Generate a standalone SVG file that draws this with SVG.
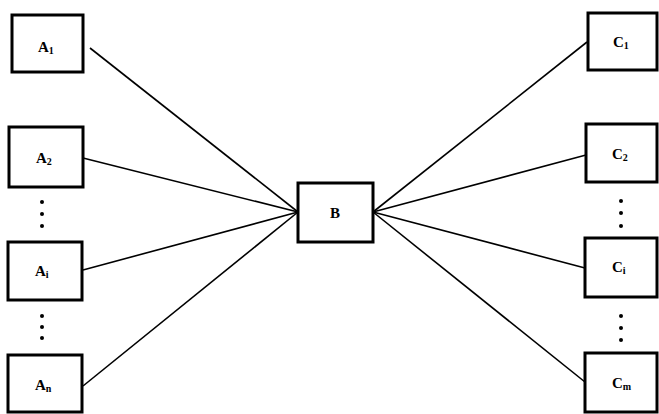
<svg xmlns="http://www.w3.org/2000/svg" width="659" height="414" viewBox="0 0 659 414">
<style>
.box{fill:#fff;stroke:#000;stroke-width:3}
.lbl{font-family:"Liberation Serif",serif;font-weight:bold;font-size:15px;fill:#000}
.sub{font-size:10px}
.ln{stroke:#000;stroke-width:1.6;fill:none}
.dot{fill:#000}
</style>
<rect width="659" height="414" fill="#fff"/>
<g id="connectors">
<line class="ln" x1="90" y1="48" x2="298" y2="212"/>
<line class="ln" x1="83" y1="158" x2="298" y2="212"/>
<line class="ln" x1="83" y1="270" x2="298" y2="212"/>
<line class="ln" x1="83" y1="386" x2="298" y2="212"/>
<line class="ln" x1="587" y1="42" x2="373" y2="212"/>
<line class="ln" x1="586" y1="155" x2="373" y2="212"/>
<line class="ln" x1="585" y1="268" x2="373" y2="212"/>
<line class="ln" x1="585" y1="382" x2="373" y2="212"/>
</g>
<g id="A1"><rect class="box" x="12" y="15" width="71" height="57"/><text class="lbl" x="38" y="52">A<tspan class="sub" dy="2">1</tspan></text></g>
<g id="A2"><rect class="box" x="9" y="127" width="74" height="60"/><text class="lbl" x="36" y="163">A<tspan class="sub" dy="2">2</tspan></text></g>
<g id="Ai"><rect class="box" x="8" y="242" width="74" height="58"/><text class="lbl" x="35" y="276">A<tspan class="sub" dy="2">i</tspan></text></g>
<g id="An"><rect class="box" x="8" y="355" width="74" height="57"/><text class="lbl" x="35" y="390">A<tspan class="sub" dy="2">n</tspan></text></g>
<g id="B"><rect class="box" x="298" y="183" width="75" height="59"/><text class="lbl" x="335" y="218" text-anchor="middle">B</text></g>
<g id="C1"><rect class="box" x="588" y="13" width="69" height="57"/><text class="lbl" x="613" y="47">C<tspan class="sub" dy="2">1</tspan></text></g>
<g id="C2"><rect class="box" x="586" y="124" width="71" height="58"/><text class="lbl" x="612" y="159">C<tspan class="sub" dy="2">2</tspan></text></g>
<g id="Ci"><rect class="box" x="585" y="238" width="72" height="59"/><text class="lbl" x="612" y="272">C<tspan class="sub" dy="2">i</tspan></text></g>
<g id="Cm"><rect class="box" x="585" y="353" width="72" height="59"/><text class="lbl" x="612" y="388">C<tspan class="sub" dy="2">m</tspan></text></g>
<g id="dots">
<circle class="dot" cx="42" cy="202" r="2"/><circle class="dot" cx="42" cy="214" r="2"/><circle class="dot" cx="42" cy="226" r="2"/>
<circle class="dot" cx="42" cy="316" r="2"/><circle class="dot" cx="42" cy="327" r="2"/><circle class="dot" cx="42" cy="338" r="2"/>
<circle class="dot" cx="621" cy="201" r="2"/><circle class="dot" cx="621" cy="213" r="2"/><circle class="dot" cx="621" cy="226" r="2"/>
<circle class="dot" cx="621" cy="316" r="2"/><circle class="dot" cx="621" cy="328" r="2"/><circle class="dot" cx="621" cy="340" r="2"/>
</g>
</svg>
